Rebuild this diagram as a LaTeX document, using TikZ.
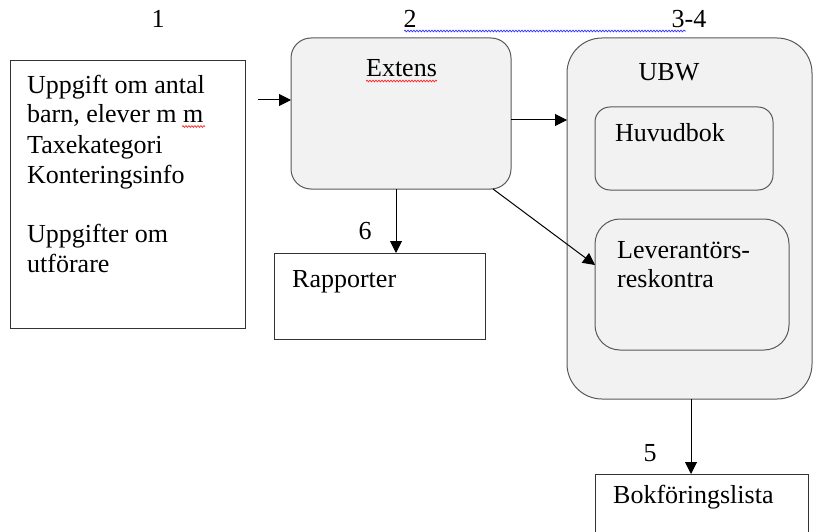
\documentclass[tikz,border=0pt]{standalone}
\usepackage{fontspec}
\setmainfont{Liberation Serif}
\usetikzlibrary{arrows.meta,calc,decorations.pathmorphing}
\begin{document}
\begin{tikzpicture}[x=1pt,y=-1pt,
  box/.style={draw=black!80,line width=0.9pt,inner sep=0pt,outer sep=0pt},
  rbox/.style={draw=black!65,fill=black!5,line width=1pt,inner sep=0pt,outer sep=0pt},
  txt/.style={inner sep=0pt,anchor=base west,font=\fontsize{26}{30}\selectfont},
  ctxt/.style={inner sep=0pt,anchor=base,font=\fontsize{26}{30}\selectfont},
  arr/.style={line width=1pt,-{Triangle[length=12pt,width=12pt]}},
  squig/.style={line width=0.7pt,decorate,decoration={snake,amplitude=0.9pt,segment length=3pt}}]
\useasboundingbox (0,0) rectangle (813,532);
\clip (0,0) rectangle (813,532);
% boxes
\node[box,minimum width=235pt,minimum height=268pt] (src) at (127.5,194) {};
\node[rbox,rounded corners=20pt,minimum width=220pt,minimum height=151pt] (extens) at (401,113.5) {};
\node[rbox,rounded corners=35pt,minimum width=245pt,minimum height=361pt] (ubw) at (689.5,218.5) {};
\node[rbox,rounded corners=15pt,minimum width=178pt,minimum height=83pt] (huvud) at (684,148.5) {};
\node[rbox,rounded corners=25pt,minimum width=194pt,minimum height=131pt] (lev) at (692,284.5) {};
\node[box,minimum width=211pt,minimum height=86pt] (rap) at (379.5,296) {};
\node[box,minimum width=213pt,minimum height=71pt] (bok) at (701.5,509.5) {};
% texts
\node[txt] (t1) at (27,94) {Uppgift om antal};
\node[txt] (t2) at (27,123) {barn, elever m m};
\node[txt] (t3) at (27,153) {Taxekategori};
\node[txt] (t4) at (27,183) {Konteringsinfo};
\node[txt] (t5) at (27,242) {Uppgifter om};
\node[txt] (t6) at (27,272) {utförare};
\node[ctxt] (extl) at (401.5,77) {Extens};
\node[ctxt] (ubwl) at (669,81) {UBW};
\node[txt] (huvl) at (615,142) {Huvudbok};
\node[txt] (lev1) at (617,258) {Leverantörs-};
\node[txt] (lev2) at (617,287) {reskontra};
\node[txt] (rapl) at (292,287) {Rapporter};
\node[txt] (bokl) at (613,503) {Bokföringslista};
\node[ctxt] (n1) at (158,28) {1};
\node[ctxt] (n2) at (410,28) {2};
\node[ctxt] (n34) at (689,28) {3-4};
\node[ctxt] (n6) at (365,239) {6};
\node[ctxt] (n5) at (650,461) {5};
% spell-check squiggles
\draw[squig,blue!80] (404,31) -- (686,31);
\draw[squig,red!85] (366,81) -- (437,81);
\draw[squig,red!85] (182,126.5) -- (205,126.5);
% connectors
\coordinate (in) at (258,100);
\draw[arr] (in) -- (in -| extens.west);
\draw[arr] ([yshift=-6.5pt]extens.east) -- ([yshift=-6.5pt]extens.east -| ubw.west);
\draw[arr] ([xshift=-5pt]extens.south) -- ([xshift=-5pt]extens.south |- rap.north);
\draw[arr] ([xshift=-18pt]extens.south east) -- ([yshift=19.5pt]lev.west);
\draw[arr] ([xshift=1.5pt]ubw.south) -- ([xshift=1.5pt]ubw.south |- bok.north);
\end{tikzpicture}
\end{document}
